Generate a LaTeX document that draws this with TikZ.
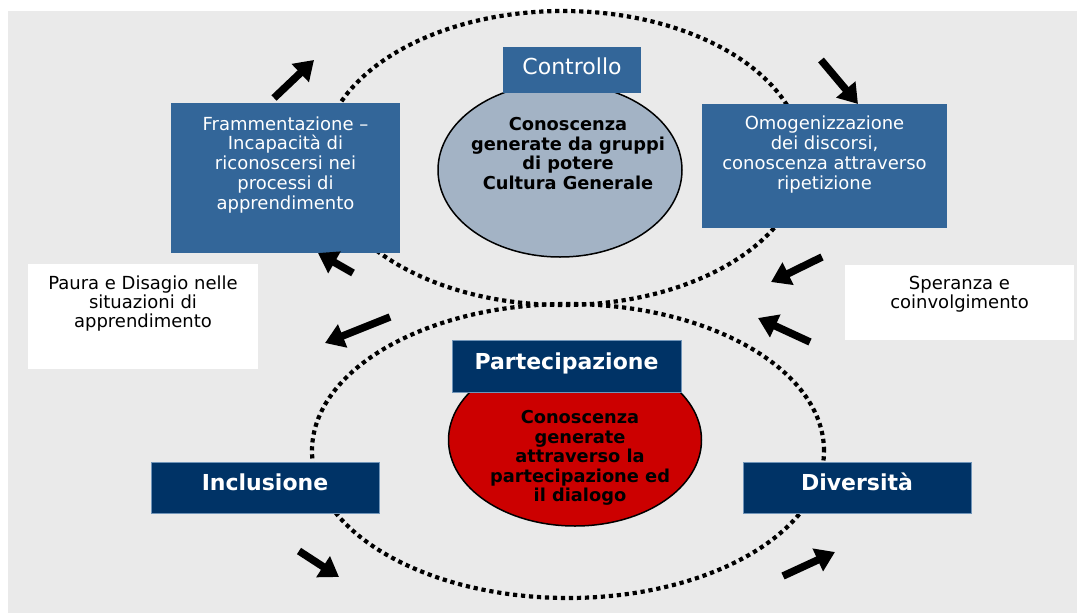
\documentclass[tikz,border=0pt]{standalone}
\usepackage{fontspec}
\setmainfont{DejaVu Sans}
\usetikzlibrary{arrows.meta,shapes.geometric}
\definecolor{bgcol}{HTML}{EAEAEA}
\definecolor{steel}{HTML}{336699}
\definecolor{navy}{HTML}{003366}
\definecolor{grayell}{HTML}{A3B3C5}
\definecolor{redell}{HTML}{CC0000}
\begin{document}
\begin{tikzpicture}[x=1pt,y=-1pt,
  boxshape/.style={rectangle, inner sep=0pt, anchor=north west, outer sep=0pt},
  steelbox/.style={boxshape, fill=steel},
  navybox/.style={boxshape, fill=navy, draw=steel!70, line width=0.8pt},
  whitebox/.style={boxshape, fill=white},
  bodytxt/.style={inner sep=0pt, anchor=north, align=center, font=\fontsize{18}{19.8}\selectfont},
  boldtxt/.style={inner sep=0pt, anchor=north, align=center, font=\fontsize{17.8}{19.5}\selectfont\bfseries},
  headtxt/.style={inner sep=0pt, anchor=base, text=white, font=\fontsize{22}{24}\selectfont},
  dotring/.style={ellipse, draw=black, line width=4.2pt, dash pattern=on 4.2pt off 3.8pt, inner sep=0pt},
  blob/.style={ellipse, draw=black, line width=1.5pt, inner sep=0pt},
  bigarrow/.style={draw=black, line width=7.5pt, -{Triangle[length=19pt,width=24pt]}}
]
\useasboundingbox (0,0) rectangle (1077,613);
\fill[white] (0,0) rectangle (1077,613);
\fill[bgcol] (8,11) rectangle (1077,613);

% dotted rings
\node[dotring, minimum width=480pt, minimum height=294pt] (ringtop) at (563,158) {};
\node[dotring, minimum width=512pt, minimum height=294pt] (ringbot) at (568,451) {};

% white side boxes
\node[whitebox, minimum width=230pt, minimum height=105pt] (paura) at (28,264) {};
\node[bodytxt, font=\fontsize{18}{19}\selectfont] (pauratxt) at (143,275.5) {Paura e Disagio nelle\\situazioni di\\apprendimento};
\node[whitebox, minimum width=229pt, minimum height=75pt] (speranza) at (845,265) {};
\node[bodytxt, font=\fontsize{18}{19}\selectfont] (speranzatxt) at (959.5,276.3) {Speranza e\\coinvolgimento};

% steel boxes
\node[steelbox, minimum width=229pt, minimum height=150pt] (fram) at (171,103) {};
\node[bodytxt, text=white] (framtxt) at (285.5,116.2) {Frammentazione –\\Incapacità di\\riconoscersi nei\\processi di\\apprendimento};
\node[steelbox, minimum width=245pt, minimum height=124pt] (omog) at (702,104) {};
\node[bodytxt, text=white] (omogtxt) at (824.5,116) {Omogenizzazione\\dei discorsi,\\conoscenza attraverso\\ripetizione};

% gray ellipse and Controllo
\node[blob, fill=grayell, minimum width=244pt, minimum height=174pt] (grayblob) at (560,170) {};
\node[boldtxt] (graytxt) at (568,117.2) {Conoscenza\\generate da gruppi\\di potere\\Cultura Generale};
\node[steelbox, minimum width=138pt, minimum height=46pt] (controllo) at (503,47) {};
\node[headtxt] (controllotxt) at (572,74.5) {Controllo};

% red ellipse and Partecipazione
\node[blob, fill=redell, minimum width=253pt, minimum height=172pt] (redblob) at (575,440) {};
\node[boldtxt] (redtxt) at (580,410.5) {Conoscenza\\generate\\attraverso la\\partecipazione ed\\il dialogo};
\node[navybox, minimum width=229pt, minimum height=52pt] (parte) at (452,340) {};
\node[headtxt, font=\fontsize{22}{24}\selectfont\bfseries] (partetxt) at (566.5,369) {Partecipazione};

% Inclusione / Diversita
\node[navybox, minimum width=228pt, minimum height=51pt] (incl) at (151,462) {};
\node[headtxt, font=\fontsize{22}{24}\selectfont\bfseries] (incltxt) at (265,490) {Inclusione};
\node[navybox, minimum width=228pt, minimum height=51pt] (divers) at (743,462) {};
\node[headtxt, font=\fontsize{22}{24}\selectfont\bfseries] (diverstxt) at (857,490) {Diversità};

% arrows
\coordinate (a1s) at (274,98);  \coordinate (a1e) at (314,60);
\coordinate (a2s) at (821,60);  \coordinate (a2e) at (858,104);
\coordinate (a3s) at (353,273); \coordinate (a3e) at (318,253);
\coordinate (a4s) at (822,257); \coordinate (a4e) at (771,282);
\coordinate (a5s) at (390,317); \coordinate (a5e) at (325,343);
\coordinate (a6s) at (810,342); \coordinate (a6e) at (758,318);
\coordinate (a7s) at (299,551); \coordinate (a7e) at (339,577);
\coordinate (a8s) at (783,576); \coordinate (a8e) at (835,552);
\foreach \k in {1,...,8} {\draw[bigarrow] (a\k s) -- (a\k e);}
\end{tikzpicture}
\end{document}
